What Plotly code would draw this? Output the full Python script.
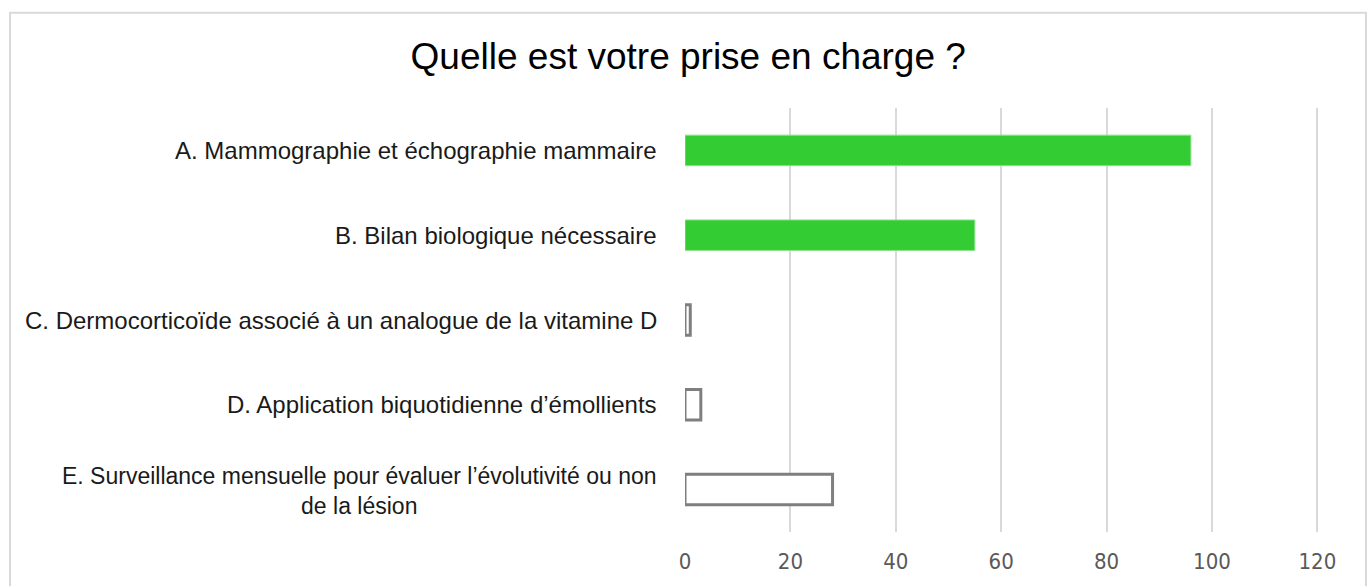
import plotly.graph_objects as go

# Survey answers: "Quelle est votre prise en charge ?"
categories = [
    "A. Mammographie et échographie mammaire",
    "B. Bilan biologique nécessaire",
    "C. Dermocorticoïde associé à un analogue de la vitamine D",
    "D. Application biquotidienne d’émollients",
    "E. Surveillance mensuelle pour évaluer l’évolutivité ou non<br>de la lésion",
]
counts = [96, 55, 1, 3, 28]
correct = [True, True, False, False, False]
x_ticks = [0, 20, 40, 60, 80, 100, 120]

fill_colors = ["#33CC33" if c else "#FFFFFF" for c in correct]
line_colors = ["#8BE38B" if c else "#7F7F7F" for c in correct]
line_widths = [1 if c else 3 for c in correct]

fig = go.Figure()

# one trace per bar so each can carry its own outline width
for cat, val, fc, lc, lw in zip(categories, counts, fill_colors, line_colors, line_widths):
    fig.add_trace(go.Bar(
        y=[cat], x=[val], orientation="h",
        marker=dict(color=fc, line=dict(color=lc, width=lw)),
        width=0.36, showlegend=False, hoverinfo="x+y",
    ))

# category labels, centred line by line and right-aligned against the axis
for cat in categories:
    multiline = "<br>" in cat
    fig.add_annotation(
        x=0, xref="paper", y=cat, yref="y",
        text=cat, showarrow=False, xanchor="right", align="center",
        xshift=-26, yshift=-1 if multiline else 0,
        font=dict(family="Liberation Sans, Arial", size=23 if multiline else 24, color="#1a1a1a"),
    )

# light frame around the chart area
fig.add_shape(
    type="rect", xref="paper", yref="paper",
    x0=-1.063, x1=1.0724, y0=-0.3, y1=1.2248,
    line=dict(color="#D9D9D9", width=2), fillcolor="rgba(0,0,0,0)", layer="below",
)

fig.update_layout(
    width=1371, height=586,
    margin=dict(l=685, r=51, t=108, b=51),
    paper_bgcolor="white", plot_bgcolor="white",
    title=dict(
        text="Quelle est votre prise en charge ?",
        x=0.502, xanchor="center", y=0.905, yanchor="middle",
        font=dict(family="Liberation Sans, Arial", size=37, color="#000000"),
    ),
    bargap=0.64,
    xaxis=dict(
        range=[0, 120.5], tickvals=x_ticks, ticktext=[str(v) for v in x_ticks],
        showgrid=True, gridcolor="#D9D9D9", gridwidth=2,
        zeroline=False, showline=False, ticks="",
        tickfont=dict(family="DejaVu Sans Condensed, Liberation Sans", size=22, color="#595959"),
        ticklabelstandoff=14, fixedrange=True,
    ),
    yaxis=dict(
        categoryorder="array", categoryarray=categories[::-1],
        showticklabels=False, showgrid=False, zeroline=False,
        showline=False, ticks="", fixedrange=True,
    ),
)

fig.write_html("out.html")
